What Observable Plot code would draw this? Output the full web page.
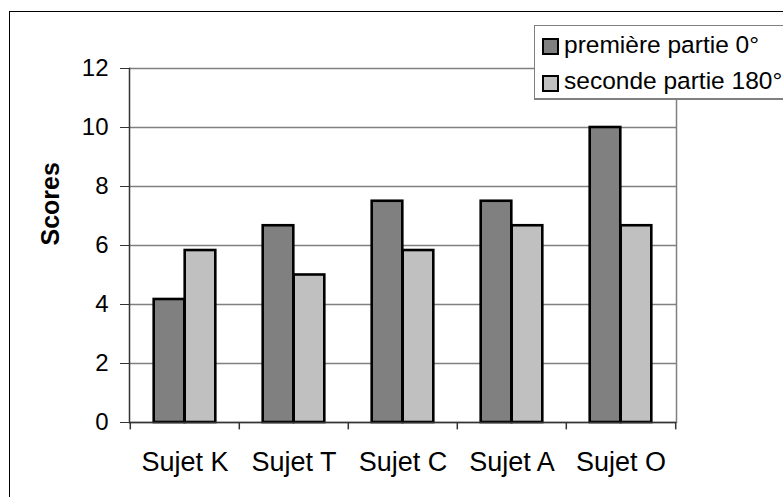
<!DOCTYPE html>
<html><head><meta charset="utf-8">
<script src="https://cdn.jsdelivr.net/npm/d3@7"></script>
<script src="https://cdn.jsdelivr.net/npm/@observablehq/plot@0.6"></script>
<style>
body{margin:0;background:#fff;}
#wrap{position:relative;width:783px;height:497px;overflow:hidden;font-family:"Liberation Sans",Arial,sans-serif;background:#fff;}
#chart{position:absolute;left:0;top:0;}
#chart svg{display:block;}
#outer{position:absolute;left:8.5px;top:11.2px;width:900px;height:700px;border:1.5px solid #000;pointer-events:none;}
#legend{position:absolute;left:533.5px;top:24.5px;width:320px;height:72px;background:#fff;border:1.5px solid #808080;border-bottom-width:2.5px;}
.sw{position:absolute;left:7.5px;width:17px;height:17px;box-sizing:border-box;border:2px solid #000;}
.lt{position:absolute;left:29.5px;font-size:24.5px;line-height:24px;white-space:nowrap;color:#000;}
</style>
</head><body>
<div id="wrap">
  <div id="chart"></div>
  <div id="outer"></div>
  <div id="legend"></div>
</div>
<script>
const subjects = ["Sujet K","Sujet T","Sujet C","Sujet A","Sujet O"];
const seriesNames = ["première partie 0°","seconde partie 180°"];
const firstPart = [4.17, 6.67, 7.5, 7.5, 10];
const secondPart = [5.83, 5.0, 5.83, 6.67, 6.67];
const yTicks = [0, 2, 4, 6, 8, 10, 12];
const seriesColors = ["#808080", "#C0C0C0"];

const data = subjects.flatMap((s, i) => [
  {subject: s, series: seriesNames[0], value: firstPart[i]},
  {subject: s, series: seriesNames[1], value: secondPart[i]}
]);

const W = 783, H = 497, mL = 129, mR = 107, mT = 68, mB = 75;
const bw = (W - mL - mR) / subjects.length;
const barW = 31;
const inset = (bw - barW) / 2;

const chart = Plot.plot({
  width: W, height: H,
  marginLeft: mL, marginRight: mR, marginTop: mT, marginBottom: mB,
  style: {fontFamily: '"Liberation Sans", Arial, sans-serif', fontSize: "24px", color: "#000", background: "transparent", overflow: "visible"},
  x: {type: "band", domain: subjects, padding: 0, label: null},
  y: {domain: [0, 12], label: null},
  marks: [
    Plot.gridY(yTicks, {stroke: "#808080", strokeOpacity: 1, strokeWidth: 1.5}),
    Plot.frame({anchor: "right", stroke: "#808080", strokeWidth: 1.5}),
    Plot.barY(data.filter(d => d.series === seriesNames[0]), {x: "subject", y: "value", fill: seriesColors[0], stroke: "#000", strokeWidth: 2.6, insetLeft: inset, insetRight: inset, dx: -barW / 2}),
    Plot.barY(data.filter(d => d.series === seriesNames[1]), {x: "subject", y: "value", fill: seriesColors[1], stroke: "#000", strokeWidth: 2.6, insetLeft: inset, insetRight: inset, dx: barW / 2}),
    Plot.ruleY([0], {stroke: "#333", strokeWidth: 1.5}),
    Plot.frame({anchor: "left", stroke: "#333", strokeWidth: 1.5}),
    Plot.ruleX(subjects, {x: d => d, y1: 0, y2: -0.25, dx: -bw / 2, stroke: "#333", strokeWidth: 1.5}),
    Plot.ruleX([subjects[subjects.length - 1]], {x: d => d, y1: 0, y2: -0.25, dx: bw / 2, stroke: "#333", strokeWidth: 1.5}),
    Plot.axisY(yTicks, {tickSize: 9, tickPadding: 12, fontSize: 24, label: null, stroke: "#333"}),
    Plot.axisX({tickSize: 0, tickPadding: 29, fontSize: 27, label: null}),
    Plot.text(["Scores"], {frameAnchor: "left", rotate: -90, dx: -79, fontWeight: "bold", fontSize: 25})
  ]
});
document.getElementById("chart").appendChild(chart);

const legend = document.getElementById("legend");
seriesNames.forEach((name, i) => {
  const sw = document.createElement("div");
  sw.className = "sw";
  sw.style.top = (12.5 + i * 36.7) + "px";
  sw.style.background = seriesColors[i];
  legend.appendChild(sw);
  const t = document.createElement("div");
  t.className = "lt";
  t.style.top = (7.2 + i * 36.7) + "px";
  t.textContent = name;
  legend.appendChild(t);
});
</script>
</body></html>
